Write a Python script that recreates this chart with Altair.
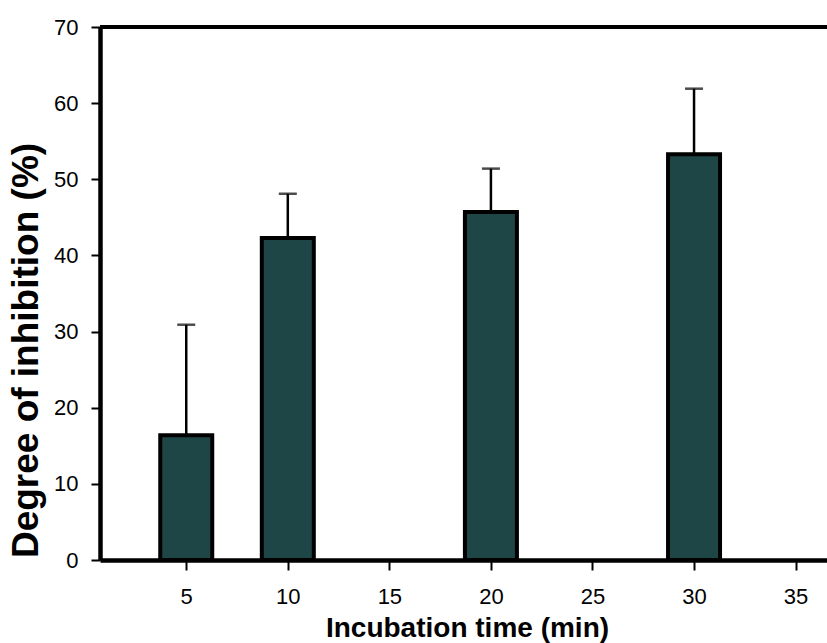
import altair as alt
import pandas as pd

times = [5, 10, 20, 30]
inhibition = [16.4, 42.3, 45.7, 53.3]
error_up = [14.5, 5.8, 5.7, 8.6]

x_ticks = [5, 10, 15, 20, 25, 30, 35]
y_ticks = [0, 10, 20, 30, 40, 50, 60, 70]

df = pd.DataFrame({"time": times, "inhib": inhibition, "err": error_up})

FONT = "Liberation Sans"

x_scale = alt.Scale(domain=[1, 36.3], nice=False, zero=False)
y_scale = alt.Scale(domain=[0, 70], nice=False, zero=True)

x_axis = alt.Axis(
    values=x_ticks, title="Incubation time (min)", grid=False,
    domainWidth=4.5, domainColor="black", tickColor="black", tickWidth=2, tickSize=10,
    labelFont=FONT, labelFontSize=22, labelColor="black", labelPadding=33,
    labelBaseline="alphabetic",
    titleFont=FONT, titleFontSize=28, titleFontWeight="bold", titleColor="black",
    titleX=367, titleY=76, titleBaseline="alphabetic", titleAlign="center",
)
y_axis = alt.Axis(
    values=y_ticks, title="Degree of inhibition (%)", grid=False,
    domainWidth=4.5, domainColor="black", tickColor="black", tickWidth=2, tickSize=9,
    labelFont=FONT, labelFontSize=22, labelColor="black", labelPadding=13,
    titleFont=FONT, titleFontSize=37, titleFontWeight="bold", titleColor="black",
    titleAngle=270, titleX=-63, titleY=323, titleBaseline="alphabetic", titleAlign="center",
)

base = alt.Chart(df)

err_rule = base.transform_calculate(upper="datum.inhib + datum.err").mark_rule(
    color="black", strokeWidth=2.5
).encode(
    x=alt.X("time:Q", scale=x_scale, axis=x_axis),
    y=alt.Y("inhib:Q", scale=y_scale, axis=y_axis),
    y2="upper:Q",
)

err_cap = base.transform_calculate(upper="datum.inhib + datum.err").mark_tick(
    color="black", thickness=2.5, size=18, orient="horizontal"
).encode(
    x=alt.X("time:Q", scale=x_scale, axis=x_axis),
    y=alt.Y("upper:Q", scale=y_scale, axis=y_axis),
)

bars = base.mark_bar(
    size=52, fill="#1f4647", stroke="black", strokeWidth=4
).encode(
    x=alt.X("time:Q", scale=x_scale, axis=x_axis),
    y=alt.Y("inhib:Q", scale=y_scale, axis=y_axis),
)

top_border = alt.Chart(pd.DataFrame({"y": [70]})).mark_rule(
    color="black", strokeWidth=4
).encode(y=alt.Y("y:Q", scale=y_scale, axis=y_axis))

chart = alt.layer(err_rule, err_cap, bars, top_border).properties(
    width=727, height=533,
    autosize=alt.AutoSizeParams(type="none"),
    padding={"left": 100, "top": 27, "right": 0, "bottom": 83},
).configure_view(stroke=None).configure_axis(
    labelFontSize=22, labelFont=FONT, labelColor="black"
).configure(background="white")

chart.save("out.html", embed_options={"renderer": "svg", "actions": False})
